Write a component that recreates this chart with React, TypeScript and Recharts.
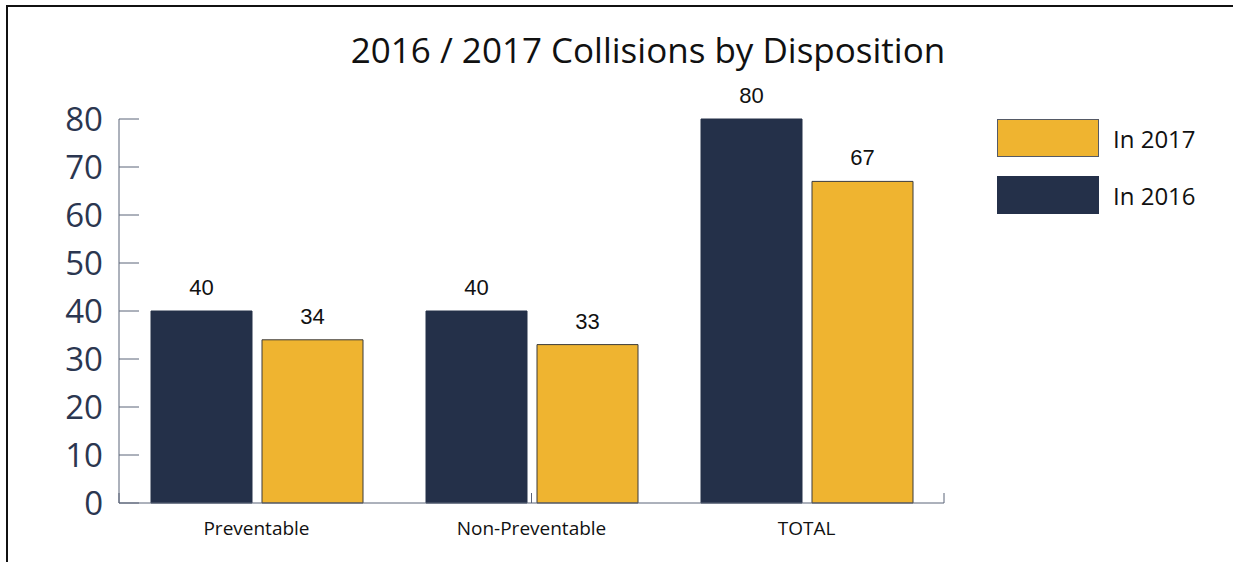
import React from "react";
import { BarChart, Bar, XAxis, YAxis, LabelList } from "recharts";

const categories = ["Preventable", "Non-Preventable", "TOTAL"];
const in2016 = [40, 40, 80];
const in2017 = [34, 33, 67];
const yTicks = [0, 10, 20, 30, 40, 50, 60, 70, 80];
const boundaryTicks = [0, 1, 2, 3];

const NAVY = "#243049";
const GOLD = "#efb430";
const AXIS = "#5b6479";

const data = categories.map((name, i) => ({ name, y2016: in2016[i], y2017: in2017[i] }));

const legendItems = [
  { label: "In 2017", color: GOLD, stroke: "#555a66" },
  { label: "In 2016", color: NAVY, stroke: NAVY },
];

const sans = "'Open Sans', 'Noto Sans', sans-serif";
const labelFont = "'Liberation Sans', Arial, sans-serif";

const NoTick = () => <g />;

export default function App() {
  return (
    <div style={{ position: "fixed", left: 0, top: 0, width: 1233, height: 562, background: "#fff", overflow: "hidden" }}>
      <div
        style={{
          position: "absolute",
          left: 6,
          top: 5,
          width: 1300,
          height: 600,
          borderLeft: "2px solid #111",
          borderTop: "2px solid #111",
        }}
      />
      <div
        style={{
          position: "absolute",
          left: 0,
          width: 1296,
          top: 29,
          textAlign: "center",
          fontFamily: sans,
          fontSize: 35,
          lineHeight: "42px",
          color: "#111",
        }}
      >
        2016 / 2017 Collisions by Disposition
      </div>
      <div style={{ position: "absolute", left: 0, top: 0 }}>
        <BarChart
          width={1233}
          height={562}
          data={data}
          margin={{ top: 119, right: 289, left: 0, bottom: 0 }}
          barCategoryGap={32}
          barGap={10}
        >
          {/* boundary ticks between categories, pointing up */}
          <XAxis
            xAxisId="a"
            type="number"
            domain={[0, 3]}
            ticks={boundaryTicks}
            allowDataOverflow
            height={1}
            tick={NoTick}
            tickLine={{ stroke: AXIS }}
            tickSize={-10}
            stroke={AXIS}
          />
          <XAxis
            xAxisId="c"
            dataKey="name"
            height={58}
            axisLine={false}
            tickLine={false}
            tickSize={0}
            tickMargin={18}
            tick={{ fill: "#111", fontSize: 19, fontFamily: sans }}
          />
          <YAxis
            domain={[0, 80]}
            ticks={yTicks}
            width={119}
            tickSize={-20}
            tickMargin={36}
            stroke={AXIS}
            tick={{ fill: "#2b3650", fontSize: 33, fontFamily: sans }}
          />
          <Bar xAxisId="c" dataKey="y2016" fill={NAVY} stroke={NAVY} isAnimationActive={false}>
            <LabelList dataKey="y2016" position="top" offset={16} fill="#111" fontSize={22} fontFamily={labelFont} />
          </Bar>
          <Bar xAxisId="c" dataKey="y2017" fill={GOLD} stroke="#3b3b3b" strokeWidth={1} isAnimationActive={false}>
            <LabelList dataKey="y2017" position="top" offset={16} fill="#111" fontSize={22} fontFamily={labelFont} />
          </Bar>
        </BarChart>
      </div>
      {legendItems.map((item, i) => (
        <div key={item.label} style={{ position: "absolute", left: 997, top: 119 + i * 57, display: "flex", alignItems: "center" }}>
          <div style={{ width: 100, height: 36, background: item.color, border: `1px solid ${item.stroke}` }} />
          <span style={{ marginLeft: 14, fontFamily: sans, fontSize: 24, color: "#111" }}>{item.label}</span>
        </div>
      ))}
    </div>
  );
}
